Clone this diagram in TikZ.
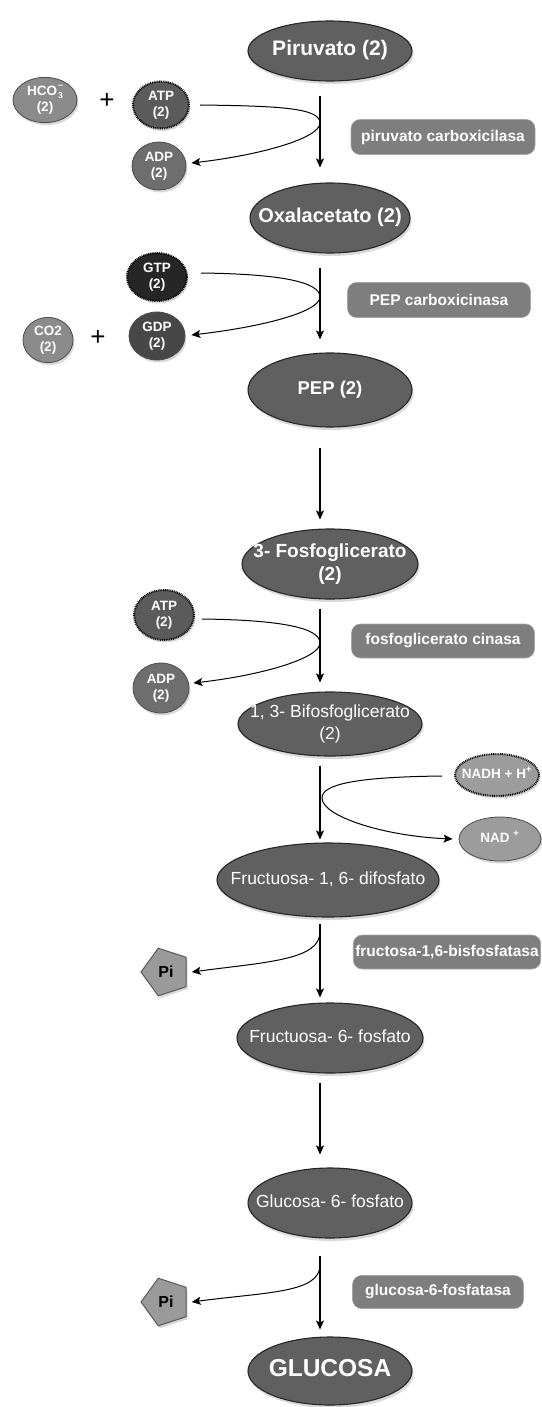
\documentclass[tikz,border=0pt]{standalone}
\usepackage{fontspec}
\setmainfont{Liberation Sans}
\usetikzlibrary{shapes.geometric,shadows,arrows.meta}
\definecolor{mainfill}{HTML}{606060}
\definecolor{enzfill}{HTML}{7E7E7E}
\definecolor{lightfill}{HTML}{8B8B8B}
\definecolor{atpfill}{HTML}{5B5B5B}
\definecolor{adpfill}{HTML}{6E6E6E}
\definecolor{gtpfill}{HTML}{262626}
\definecolor{gdpfill}{HTML}{474747}
\definecolor{nadfill}{HTML}{9C9C9C}
\definecolor{pifill}{HTML}{9A9A9A}
\newcommand{\mylbl}[1]{\makebox[0pt]{\begin{tabular}{@{}c@{}}#1\end{tabular}}}
\begin{document}
\begin{tikzpicture}[x=1pt,y=-1pt,
  main/.style={ellipse, fill=mainfill, draw=black!85, line width=1.1pt, text=white, inner sep=0pt,
    drop shadow={shadow xshift=1.5pt, shadow yshift=-3pt, opacity=0.3}},
  mainbold/.style={main, font=\bfseries\fontsize{21}{24}\selectfont},
  mainreg/.style={main, font=\fontsize{17.5}{22}\selectfont},
  small/.style={ellipse, draw=black!70, line width=0.8pt, text=white, inner sep=0pt,
    font=\bfseries\fontsize{13.5}{16}\selectfont,
    drop shadow={shadow xshift=1.5pt, shadow yshift=-2.5pt, opacity=0.3}},
  dots/.style={draw=black, line width=2pt, dash pattern=on 0.9pt off 0.9pt},
  enz/.style={rectangle, rounded corners=9pt, fill=enzfill, draw=black!35, line width=0.6pt,
    text=white, font=\bfseries\fontsize{15.5}{18}\selectfont, inner sep=2pt},
  pent/.style={regular polygon, regular polygon sides=5, shape border rotate=90, fill=pifill,
    draw=black!65, line width=1pt, minimum size=50pt, inner sep=0pt,
    font=\bfseries\fontsize{16}{18}\selectfont,
    drop shadow={shadow xshift=1.5pt, shadow yshift=-2.5pt, opacity=0.3}},
  flow/.style={-{Stealth[length=9pt,width=8pt,inset=2pt]}, line width=1.2pt},
  side/.style={-{Stealth[length=9pt,width=8pt,inset=2pt]}, line width=1pt},
  plus/.style={font=\fontsize{26}{26}\selectfont, inner sep=0pt}
]
\useasboundingbox (0,0) rectangle (541,1407);

% main pathway
\node[mainbold, minimum width=164pt, minimum height=60pt] (pir) at (330,51) {\mylbl{Piruvato (2)}};
\node[main, font=\bfseries\fontsize{20}{24}\selectfont, minimum width=160pt, minimum height=70pt] (oxa) at (330,218) {\mylbl{Oxalacetato (2)}};
\node[main, font=\bfseries\fontsize{18.5}{24}\selectfont, minimum width=164pt, minimum height=74pt] (pep) at (330,390) {\mylbl{PEP (2)}};
\node[main, font=\bfseries\fontsize{19}{23}\selectfont, minimum width=176pt, minimum height=70pt] (fos) at (330,564) {\mylbl{3- Fosfoglicerato\\(2)}};
\node[mainreg, minimum width=184pt, minimum height=64pt] (bif) at (330,724) {\mylbl{1, 3- Bifosfoglicerato\\(2)}};
\node[mainreg, minimum width=222pt, minimum height=74pt] (f16) at (328,880) {\mylbl{Fructuosa- 1, 6- difosfato}};
\node[mainreg, minimum width=186pt, minimum height=70pt] (f6) at (330,1038) {\mylbl{Fructuosa- 6- fosfato}};
\node[mainreg, minimum width=164pt, minimum height=70pt] (g6) at (330,1203) {\mylbl{Glucosa- 6- fosfato}};
\node[main, font=\bfseries\fontsize{24.5}{28}\selectfont, minimum width=164pt, minimum height=68pt] (glu) at (330,1371) {\mylbl{GLUCOSA}};

% side metabolites
\node[small, fill=lightfill, minimum width=64pt, minimum height=38pt] (hco) at (45,100) {\mylbl{HCO\kern1pt\raisebox{-3pt}{\fontsize{8.5}{8}\selectfont\shortstack{−\\[1pt]3}}\\(2)}};
\node[plus] (plus1) at (107,101) {+};
\node[small, fill=atpfill, dots, minimum width=56pt, minimum height=47pt] (atp1) at (161,105) {\mylbl{ATP\\(2)}};
\node[small, fill=adpfill, minimum width=54pt, minimum height=48pt] (adp1) at (159,166) {\mylbl{ADP\\(2)}};

\node[small, fill=gtpfill, dots, minimum width=60pt, minimum height=48pt] (gtp) at (157,277) {\mylbl{GTP\\(2)}};
\node[small, fill=gdpfill, minimum width=56pt, minimum height=48pt] (gdp) at (157,336) {\mylbl{GDP\\(2)}};
\node[small, fill=lightfill, minimum width=50pt, minimum height=42pt] (co2) at (48,340) {\mylbl{CO2\\(2)}};
\node[plus] (plus2) at (98,338) {+};

\node[small, fill=atpfill, dots, minimum width=60pt, minimum height=50pt] (atp2) at (164,615) {\mylbl{ATP\\(2)}};
\node[small, fill=adpfill, minimum width=56pt, minimum height=50pt] (adp2) at (161,688) {\mylbl{ADP\\(2)}};

\node[small, fill=nadfill, dots, minimum width=84pt, minimum height=42pt] (nadh) at (497,775) {\mylbl{NADH + H\textsuperscript{+}}};
\node[small, fill=nadfill, minimum width=82pt, minimum height=44pt] (nad) at (500,839) {\mylbl{NAD \textsuperscript{+}}};

\node[pent] (pi1) at (166,972) {Pi};
\node[pent] (pi2) at (166,1302) {Pi};

% enzymes
\node[enz, minimum width=184pt, minimum height=35pt] (e1) at (443,137) {piruvato carboxicilasa};
\node[enz, minimum width=183pt, minimum height=35pt] (e2) at (439,300) {PEP carboxicinasa};
\node[enz, minimum width=183pt, minimum height=34pt] (e3) at (443,641) {fosfoglicerato cinasa};
\node[enz, minimum width=186pt, minimum height=34pt] (e4) at (447,952) {fructosa-1,6-bisfosfatasa};
\node[enz, minimum width=171pt, minimum height=33pt] (e5) at (438,1292) {glucosa-6-fosfatasa};

% main arrows (axis x = 320)
\draw[flow] ([shift={(-10,14)}]pir.south) -- ([shift={(-10,-15)}]oxa.north);
\draw[flow] ([shift={(-10,14)}]oxa.south) -- ([shift={(-10,-13)}]pep.north);
\draw[flow] ([shift={(-10,20)}]pep.south) -- ([shift={(-10,-9)}]fos.north);
\draw[flow] ([shift={(-10,9)}]fos.south) -- ([shift={(-10,-9)}]bif.north);
\draw[flow] ([shift={(-10,9)}]bif.south) -- ([shift={(-8,-3)}]f16.north);
\draw[flow] ([shift={(-8,6)}]f16.south) -- ([shift={(-10,-5)}]f6.north);
\draw[flow] ([shift={(-10,9)}]f6.south) -- ([shift={(-10,-13)}]g6.north);
\draw[flow] ([shift={(-10,17)}]g6.south) -- ([shift={(-10,-7)}]glu.north);

% side reactions
\coordinate (k1) at (320,123);
\coordinate (k2) at (320,297);
\coordinate (k3) at (320,643);
\coordinate (k4) at (322,798);
\coordinate (k5) at (320,932);
\coordinate (k6) at (320,1265);

\draw[side] ([xshift=10pt]atp1.east) .. controls +(80,1) and +(0,-15) .. (k1) .. controls +(0,15) and +(70,-8) .. ([shift={(5,-3)}]adp1.east);
\draw[side] ([shift={(13,-4)}]gtp.east) .. controls +(80,1) and +(0,-15) .. (k2) .. controls +(0,15) and +(70,-8) .. ([shift={(6,-1)}]gdp.east);
\draw[side] ([shift={(7,4)}]atp2.east) .. controls +(80,1) and +(0,-15) .. (k3) .. controls +(0,15) and +(70,-8) .. ([shift={(4,-5)}]adp2.east);
\draw[side] ([shift={(-12,1)}]nadh.west) .. controls +(-85,1) and +(0,-14) .. (k4) .. controls +(0,18) and +(-70,-3) .. ([xshift=-6pt]nad.west);
\draw[side] (k5) .. controls +(0,28) and +(75,-10) .. ([xshift=5pt]pi1.east);
\draw[side] (k6) .. controls +(0,28) and +(75,-10) .. ([xshift=5pt]pi2.east);
\end{tikzpicture}
\end{document}
